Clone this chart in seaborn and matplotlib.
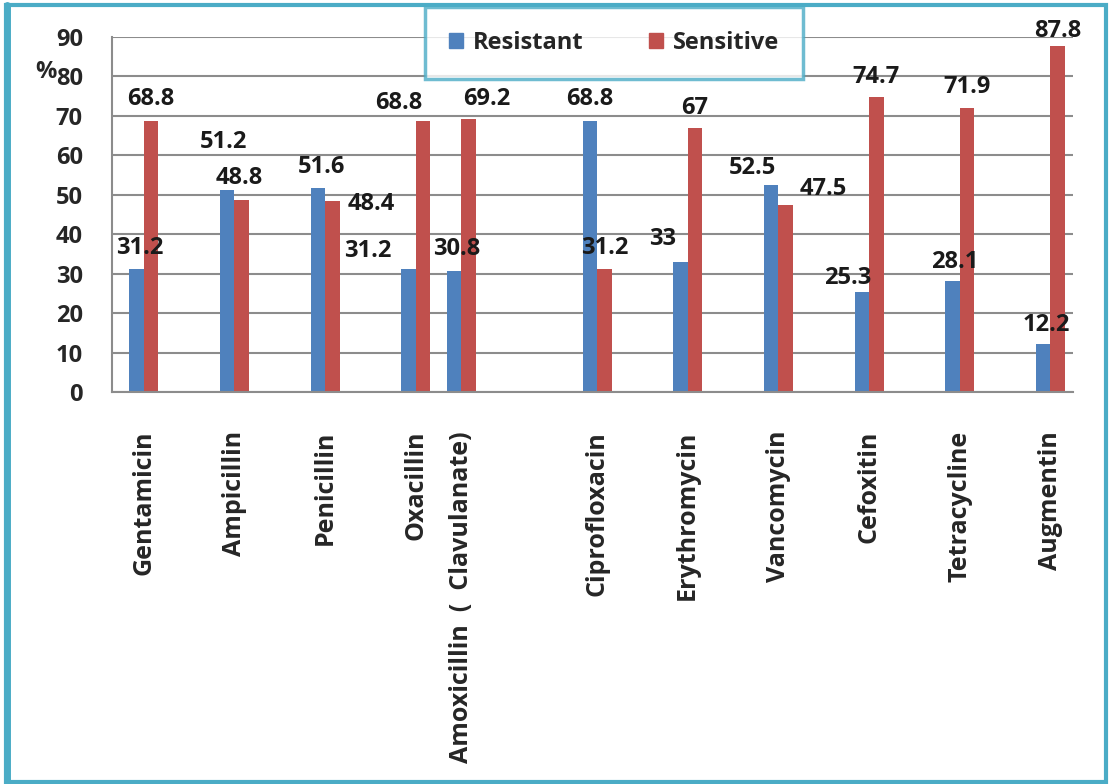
import numpy as np
import pandas as pd
import matplotlib
matplotlib.use('Agg')
import matplotlib.pyplot as plt
import matplotlib.patches as mpatches
from matplotlib.lines import Line2D
import seaborn as sns

# Antibiotic slots as laid out in the original sheet (empty strings = blank rows)
slots = ["Gentamicin", "", "Ampicillin", "", "Penicillin", "", "Oxacillin",
         "Amoxicillin  (  Clavulanate)", "", "", "Ciprofloxacin", "", "Erythromycin",
         "", "Vancomycin", "", "Cefoxitin", "", "Tetracycline", "", "Augmentin"]
drugs = ["Gentamicin", "Ampicillin", "Penicillin", "Oxacillin",
         "Amoxicillin  (  Clavulanate)", "Ciprofloxacin", "Erythromycin",
         "Vancomycin", "Cefoxitin", "Tetracycline", "Augmentin"]
resistant = [31.2, 51.2, 51.6, 31.2, 30.8, 68.8, 33, 52.5, 25.3, 28.1, 12.2]
sensitive = [68.8, 48.8, 48.4, 68.8, 69.2, 31.2, 67, 47.5, 74.7, 71.9, 87.8]
series = ["Resistant", "Sensitive"]
y_ticks = [0, 10, 20, 30, 40, 50, 60, 70, 80, 90]

# label nudges in pixels (dx, dy) relative to the bar top, mimicking the Excel layout
nudge_res = [(3, 21), (-4, 48), (4, 21), (-41, 18), (3, 22), (0, 22),
             (-18, 23), (-19, 17), (-14, 14), (2, 19), (3, 19)]
nudge_sen = [(0, 22), (-2, 22), (39, -3), (-24, 18), (18, 20), (0, 21),
             (0, 20), (38, 16), (0, 20), (0, 21), (0, 15)]

BLUE = "#4f81bd"
RED = "#c0504d"
TEAL = "#4bacc6"
GRID = "#8c8c8c"

sns.set_style("white")
plt.rcParams['font.family'] = ['Open Sans', 'DejaVu Sans']

# long-format table, blank slots get unique keys so seaborn keeps their place
keys = [s if s else f"_blank{i}" for i, s in enumerate(slots)]
df = pd.DataFrame({
    "drug": drugs * 2,
    "series": [series[0]] * len(drugs) + [series[1]] * len(drugs),
    "value": resistant + sensitive,
})

fig = plt.figure(figsize=(11.1, 7.84), dpi=100)
ax = fig.add_axes([112 / 1110, 0.5, (1073 - 112) / 1110, (392 - 37) / 784])

sns.barplot(data=df, x="drug", y="value", hue="series", order=keys,
            hue_order=series, palette=[BLUE, RED], width=0.64,
            saturation=1, ax=ax, linewidth=0)

ax.set_ylim(0, 90)
ax.set_xlim(-0.7, len(slots) - 0.5)
ax.set_yticks(y_ticks)
ax.set_yticklabels([str(t) for t in y_ticks], fontsize=17, fontweight='bold')
ax.yaxis.grid(True, color=GRID, linewidth=1.5)
ax.set_axisbelow(True)
ax.tick_params(axis='y', length=7, width=1.2, color=GRID, pad=14)

# category labels at slot centres, tick marks at slot boundaries
label_pos = [i for i, s in enumerate(slots) if s]
ax.set_xticks(label_pos)
ax.set_xticklabels([slots[i] for i in label_pos], rotation=90, fontsize=18,
                   fontweight='bold', va='top', ha='center')
ax.set_xticks(np.arange(-0.5, len(slots)), minor=True)
ax.tick_params(axis='x', which='major', length=0, pad=28)
ax.tick_params(axis='x', which='minor', length=6, width=1.2, color=GRID)
ax.set_xlabel("")
ax.set_ylabel("")

for side in ['top', 'right']:
    ax.spines[side].set_visible(False)
for side in ['left', 'bottom']:
    ax.spines[side].set_color(GRID)
    ax.spines[side].set_linewidth(1.5)

# value labels
for cont, nudges in zip(ax.containers, [nudge_res, nudge_sen]):
    bars = sorted(cont.patches, key=lambda p: p.get_x())
    for bar, (dx, dy) in zip(bars, nudges):
        h = bar.get_height()
        ax.annotate(f"{h:g}", (bar.get_x() + bar.get_width() / 2, h),
                    xytext=(dx, dy), textcoords='offset pixels',
                    ha='center', va='center', fontsize=17, fontweight='bold',
                    color='#1a1a1a', annotation_clip=False)

ax.get_legend().remove()
handles = [mpatches.Patch(color=BLUE, label=series[0]),
           mpatches.Patch(color=RED, label=series[1])]
leg = fig.legend(handles=handles, loc='center', bbox_to_anchor=(614 / 1110, 1 - 43 / 784),
                 ncol=2, frameon=True, fancybox=False, fontsize=17,
                 handlelength=0.6, handleheight=0.6, handletextpad=0.4,
                 columnspacing=2.8, borderpad=1.0, borderaxespad=0)
leg.get_frame().set_edgecolor(TEAL)
leg.get_frame().set_linewidth(2.5)
for t in leg.get_texts():
    t.set_fontweight('bold')

fig.text(57 / 1110, 1 - 72 / 784, "%", fontsize=17, fontweight='bold',
         ha='right', va='center')

# outer frame
fig.patches.append(mpatches.Rectangle((6 / 1110, 2 / 784), 1100 / 1110, 777 / 784,
                                      transform=fig.transFigure, fill=False,
                                      edgecolor=TEAL, linewidth=3))
fig.lines.append(Line2D([7 / 1110, 7 / 1110], [2 / 784, 779 / 784],
                        transform=fig.transFigure, color=TEAL, linewidth=5))

fig.savefig("out.png", dpi=100)
